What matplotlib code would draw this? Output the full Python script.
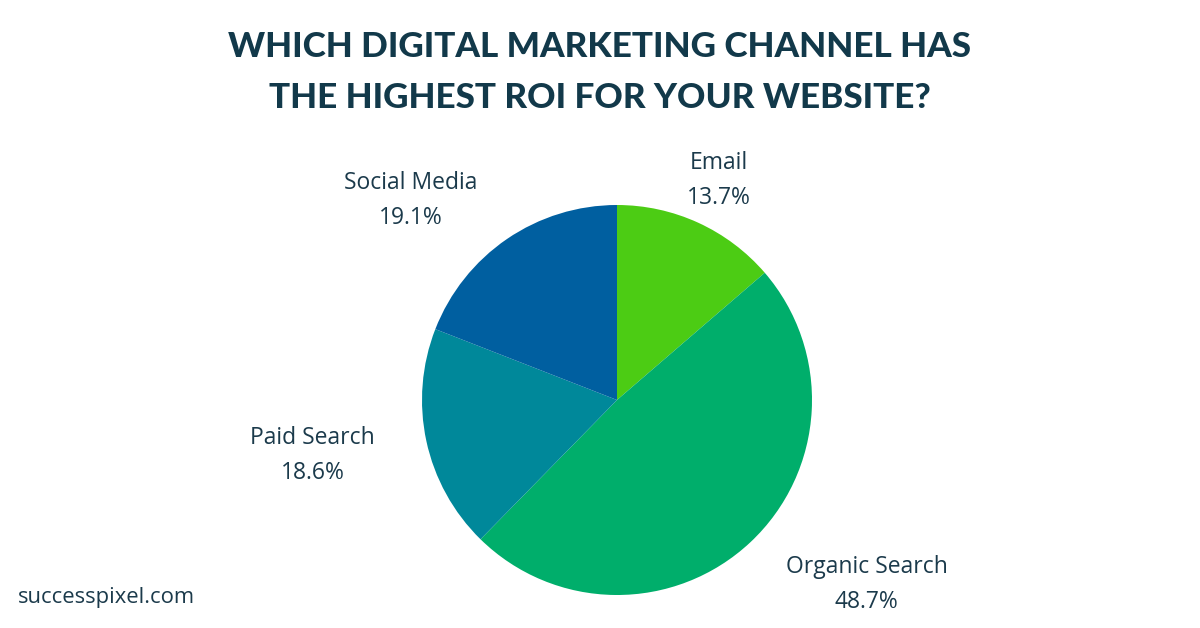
import matplotlib.pyplot as plt

channels = ["Email", "Organic Search", "Paid Search", "Social Media"]
shares = [13.7, 48.7, 18.6, 19.1]
colors = ["#4ccc14", "#00ae6b", "#00889a", "#005fa0"]

# label anchor points in pie units (radius = 1)
label_pos = [(0.52, 1.125), (1.28, -0.945), (-1.56, -0.285), (-1.06, 1.025)]

text_color = "#1b3a4b"
title_color = "#12394a"
label_font = ["Open Sans", "DejaVu Sans"]

fig = plt.figure(figsize=(12, 6.28), dpi=100)

cx, cy, r = 617 / 1200, 1 - 400 / 628, 195
ax = fig.add_axes([cx - r / 1200, cy - r / 628, 2 * r / 1200, 2 * r / 628])
wedges, _ = ax.pie(shares, colors=colors, startangle=90, counterclock=False,
                   wedgeprops=dict(linewidth=0))
ax.set_xlim(-1, 1)
ax.set_ylim(-1, 1)
ax.set_aspect("equal")

for name, val, (x, y) in zip(channels, shares, label_pos):
    ax.text(x, y, f"{name}\n{val:.1f}%", ha="center", va="center",
            fontsize=16.5, color=text_color, family=label_font,
            linespacing=1.6, clip_on=False)

fig.text(0.5, 1 - 47 / 628, "WHICH DIGITAL MARKETING CHANNEL HAS",
         ha="center", va="center", fontsize=25.3, fontweight="black",
         family="Lato", color=title_color)
fig.text(0.5, 1 - 98 / 628, "THE HIGHEST ROI FOR YOUR WEBSITE?",
         ha="center", va="center", fontsize=25.3, fontweight="black",
         family="Lato", color=title_color)

fig.text(18 / 1200, 1 - 598 / 628, "successpixel.com", ha="left", va="center",
         fontsize=15.8, family=label_font, color=text_color)

fig.savefig("out.png", dpi=100, facecolor="white")
